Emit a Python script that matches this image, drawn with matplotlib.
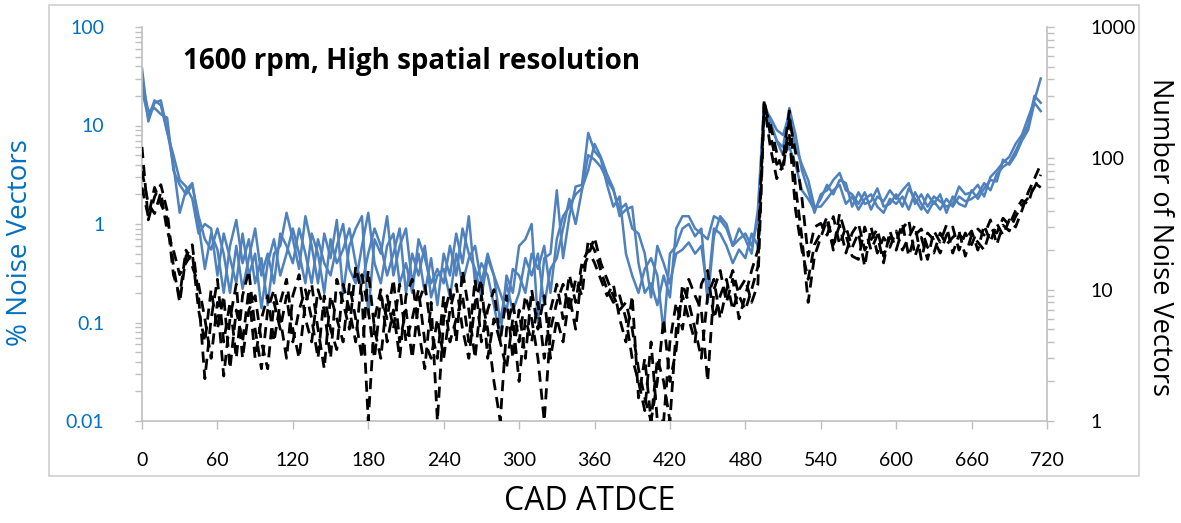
import numpy as np
import matplotlib.pyplot as plt
from matplotlib.patches import Rectangle
from matplotlib.ticker import FixedLocator, LogLocator, NullFormatter, FixedFormatter

# crank angle (deg ATDCE), one sample every 5 deg
cad = np.arange(0, 720, 5)

# % noise vectors, three runs (left axis)
pct_run1 = [38, 11, 17, 18, 9, 4, 1.3, 2.2, 2.6, 1.0, 0.35, 0.8,
            0.55, 0.2, 0.6, 1.1, 0.4, 0.7, 0.25, 0.45, 0.15, 0.5, 0.6, 1.3,
            0.7, 0.35, 1.2, 0.6, 0.25, 0.8, 0.45, 1.1, 0.2, 0.6, 0.9, 1.2,
            0.12, 0.7, 0.5, 1.2, 0.3, 0.6, 0.9, 0.25, 0.5, 0.2, 0.45, 0.15,
            0.5, 0.3, 0.8, 0.4, 1.2, 0.25, 0.4, 0.3, 0.15, 0.07, 0.3, 0.2,
            0.6, 0.7, 1.0, 0.1, 0.45, 0.5, 2.2, 0.45, 1.2, 2.4, 2.5, 8.4,
            5.5, 4.6, 2.5, 1.5, 1.9, 0.5, 0.3, 0.2, 0.35, 0.45, 0.3, 0.08,
            0.5, 0.6, 0.9, 1.0, 0.75, 0.9, 0.16, 0.75, 1.2, 1.0, 0.6, 0.9,
            0.7, 0.5, 1.4, 17, 11, 7, 6, 15, 8, 3.5, 2.2, 1.3,
            2.0, 2.2, 2.8, 3.3, 2.2, 2.0, 1.6, 2.1, 1.4, 1.9, 1.7, 2.2,
            1.8, 2.2, 2.6, 1.6, 2.0, 1.5, 1.9, 1.7, 1.5, 1.6, 2.4, 2.0,
            2.1, 2.5, 1.9, 3.0, 3.5, 4.2, 4.8, 6.5, 8.0, 12, 18, 30]
pct_run2 = [28, 14, 15, 13, 12, 3.5, 2.5, 2.0, 2.5, 1.2, 0.7, 0.55,
            0.9, 0.5, 0.2, 0.6, 0.22, 0.45, 0.9, 0.3, 0.5, 0.25, 0.8, 0.6,
            0.4, 0.9, 0.5, 0.25, 0.7, 0.4, 0.3, 0.6, 1.0, 0.35, 0.25, 0.6,
            1.3, 0.4, 0.25, 0.6, 0.8, 0.25, 0.4, 0.2, 0.7, 0.45, 0.25, 0.35,
            0.25, 0.6, 0.3, 0.9, 0.5, 0.35, 0.18, 0.45, 0.3, 0.2, 0.13, 0.35,
            0.3, 0.2, 0.5, 0.35, 0.6, 0.2, 0.7, 1.2, 1.5, 2.0, 2.3, 3.5,
            6.5, 4.8, 3.2, 2.3, 1.2, 1.4, 1.5, 0.4, 0.2, 0.25, 0.15, 0.3,
            0.18, 0.9, 1.2, 1.2, 0.9, 0.8, 0.7, 1.2, 1.1, 0.9, 0.6, 0.7,
            0.8, 0.6, 1.1, 15, 12, 9, 8, 13, 6, 4, 2.8, 1.5,
            1.5, 1.8, 2.2, 2.5, 1.6, 1.9, 1.4, 1.8, 2.0, 1.5, 1.3, 1.8,
            1.6, 1.9, 1.4, 2.1, 1.6, 1.3, 1.7, 1.4, 1.8, 1.5, 1.9, 1.7,
            1.8, 2.0, 2.6, 2.2, 3.2, 3.8, 4.2, 5.5, 7.5, 10, 20, 17]
pct_run3 = [23, 12, 18, 16, 8.5, 5, 2.8, 2.4, 1.8, 0.8, 1.0, 0.9,
            0.3, 0.8, 0.45, 0.25, 0.8, 0.3, 0.5, 0.14, 0.4, 0.7, 0.3, 0.5,
            0.9, 0.5, 0.25, 0.8, 0.5, 0.2, 0.7, 0.4, 0.55, 0.9, 0.4, 0.25,
            0.5, 0.9, 0.6, 0.3, 0.5, 0.9, 0.2, 0.5, 0.3, 0.6, 0.18, 0.3,
            0.35, 0.18, 0.5, 0.25, 0.45, 0.6, 0.25, 0.5, 0.3, 0.1, 0.25, 0.13,
            0.2, 0.45, 0.3, 0.5, 0.15, 0.35, 0.45, 0.9, 1.8, 1.0, 2.2, 5.0,
            4.5, 3.8, 2.8, 2.2, 1.4, 1.6, 0.9, 0.8, 0.5, 0.18, 0.6, 0.4,
            0.25, 0.5, 0.55, 0.65, 0.5, 0.6, 0.2, 0.9, 0.8, 0.6, 0.4, 0.55,
            0.45, 0.8, 0.6, 16, 10, 7, 5, 6, 4, 2.2, 1.8, 1.4,
            1.8, 2.5, 2.0, 2.8, 2.6, 1.5, 2.1, 1.6, 1.7, 2.3, 1.5, 1.6,
            2.0, 1.5, 2.3, 1.8, 1.4, 2.0, 1.6, 2.0, 1.3, 1.9, 1.6, 1.5,
            2.2, 1.8, 2.3, 2.8, 2.7, 4.5, 4.0, 5.0, 7.0, 9.0, 17, 14]

# number of noise vectors, three runs (right axis)
num_run1 = [122, 34, 51, 63, 40, 15, 8, 18, 22, 9, 2.1, 6,
            12, 4, 8, 3, 9, 14, 5, 2.5, 7, 10, 6, 3,
            9, 13, 6, 4, 10, 7, 3, 12, 8, 5, 15, 9,
            1.0, 6, 10, 4, 7, 3, 9, 12, 5, 2.5, 8, 1.0,
            6, 10, 4, 14, 7, 3, 9, 5, 2, 1.0, 5, 8,
            4, 9, 6, 3, 1.0, 5, 8, 11, 7, 12, 9, 24,
            20, 14, 10, 8, 9, 6, 3, 2, 1.2, 4, 1.0, 1.0,
            4, 8, 5, 12, 9, 7, 2, 10, 14, 8, 12, 6,
            9, 14, 20, 280, 150, 90, 100, 230, 60, 25, 8, 18,
            25, 34, 20, 38, 26, 18, 17, 30, 20, 26, 16, 28,
            20, 29, 34, 18, 25, 17, 28, 23, 31, 19, 26, 24,
            28, 20, 31, 23, 32, 26, 34, 30, 40, 55, 70, 90]
num_run2 = [80, 45, 38, 55, 28, 20, 13, 16, 19, 7, 4, 10,
            5, 9, 2.5, 7, 4, 10, 3, 6, 9, 4, 8, 12,
            5, 3, 8, 11, 5, 2.5, 9, 6, 4, 11, 6, 3,
            14, 5, 3, 9, 5, 11, 4, 6, 10, 4, 3, 6,
            3, 7, 11, 5, 3, 8, 12, 3, 6, 4, 9, 3,
            7, 3, 10, 5, 9, 3, 6, 4, 9, 5, 14, 18,
            25, 16, 12, 9, 7, 8, 5, 2.5, 1.5, 1.0, 3, 2,
            1.0, 5, 9, 6, 4, 11, 14, 6, 9, 12, 7, 10,
            12, 8, 11, 250, 180, 110, 80, 200, 110, 50, 18, 30,
            32, 26, 36, 22, 30, 21, 27, 15, 30, 19, 25, 21,
            28, 20, 25, 31, 17, 27, 24, 19, 26, 30, 20, 27,
            22, 29, 26, 34, 22, 31, 28, 36, 44, 50, 60, 75]
num_run3 = [60, 36, 60, 45, 35, 13, 9, 20, 15, 11, 6, 3,
            8, 2.2, 6, 11, 3, 7, 9, 4, 2.5, 8, 5, 9,
            4, 7, 10, 6, 3, 9, 5, 3.5, 11, 7, 4, 13,
            7, 3, 9, 6, 12, 4, 7, 3, 8, 11, 5, 3,
            9, 4, 6, 9, 4, 12, 4, 7, 10, 4, 2.5, 6,
            2, 6, 4, 8, 3, 7, 11, 6, 13, 8, 16, 20,
            16, 12, 9, 11, 6, 4, 9, 1.5, 3, 1.0, 2, 6,
            2, 3.5, 11, 8, 5, 3, 9, 12, 6, 10, 14, 9,
            7, 10, 15, 260, 120, 70, 90, 150, 40, 20, 12, 22,
            27, 36, 22, 31, 19, 27, 32, 20, 24, 29, 18, 25,
            23, 32, 18, 26, 29, 21, 19, 27, 22, 25, 28, 18,
            26, 23, 20, 29, 27, 35, 31, 40, 48, 45, 65, 60]

left_ticks = [0.01, 0.1, 1, 10, 100]
left_labels = ['0.01', '0.1', '1', '10', '100']
right_ticks = [1, 10, 100, 1000]
right_labels = ['1', '10', '100', '1000']

BLUE = '#4F81BD'
LABEL_BLUE = '#0070C0'
GRAY = '#BFBFBF'

fig = plt.figure(figsize=(11.81, 5.23), dpi=100)

# light frame around the chart area, like the Excel chart border
fig.patches.append(Rectangle((49 / 1181, 1 - 476 / 523), 1090 / 1181, 471 / 523,
                             transform=fig.transFigure, fill=False,
                             edgecolor='#D0D0D0', linewidth=1.2))

ax = fig.add_axes([142 / 1181, 1 - 421 / 523, 905 / 1181, 394 / 523])
ax2 = ax.twinx()

for run in [pct_run1, pct_run2, pct_run3]:
    ax.plot(cad, run, color=BLUE, linewidth=1.8)
for run in [num_run1, num_run2, num_run3]:
    ax2.plot(cad, run, color='black', linewidth=2.0, linestyle=(0, (4, 2.5)))

ax.set_xlim(0, 720)
ax.set_yscale('log')
ax.set_ylim(0.01, 100)
ax2.set_yscale('log')
ax2.set_ylim(1, 1000)

ax.set_xticks(range(0, 721, 60))
ax.yaxis.set_major_locator(FixedLocator(left_ticks))
ax.yaxis.set_major_formatter(FixedFormatter(left_labels))
ax.yaxis.set_minor_locator(LogLocator(subs=range(2, 10)))
ax.yaxis.set_minor_formatter(NullFormatter())
ax2.yaxis.set_major_locator(FixedLocator(right_ticks))
ax2.yaxis.set_major_formatter(FixedFormatter(right_labels))
ax2.yaxis.set_minor_locator(LogLocator(subs=range(2, 10)))
ax2.yaxis.set_minor_formatter(NullFormatter())

for a in (ax, ax2):
    a.spines['top'].set_visible(False)
    for s in ('left', 'right', 'bottom'):
        a.spines[s].set_color(GRAY)
        a.spines[s].set_linewidth(1.2)
ax.spines['right'].set_visible(False)
ax2.spines['left'].set_visible(False)
ax2.spines['bottom'].set_visible(False)

ax.tick_params(axis='x', which='major', length=6, width=1, color=GRAY,
               labelsize=14, labelcolor='black', pad=16)
ax.tick_params(axis='y', which='both', length=5, width=1, color=GRAY,
               labelsize=14, labelcolor=LABEL_BLUE, pad=22)
ax2.tick_params(axis='y', which='both', length=5, width=1, color=GRAY,
                labelsize=14, labelcolor='black', pad=26)
for lab in ax.get_xticklabels() + ax.get_yticklabels() + ax2.get_yticklabels():
    lab.set_fontfamily('Lato')

ax.text(0.045, 0.912, '1600 rpm, High spatial resolution', transform=ax.transAxes,
        fontsize=20, fontweight='bold', fontfamily='Open Sans', va='center', ha='left')

fig.text(590 / 1181, 1 - 502 / 523, 'CAD ATDCE', fontsize=23, fontfamily='Open Sans',
         ha='center', va='center')
fig.text(20 / 1181, 1 - 243 / 523, '% Noise Vectors', fontsize=20, fontfamily='Open Sans',
         color=LABEL_BLUE, rotation=90, ha='center', va='center')
fig.text(1160 / 1181, 1 - 237 / 523, 'Number of Noise Vectors', fontsize=19.5,
         fontfamily='Open Sans', rotation=270, ha='center', va='center')

fig.savefig('out.png', dpi=100)
